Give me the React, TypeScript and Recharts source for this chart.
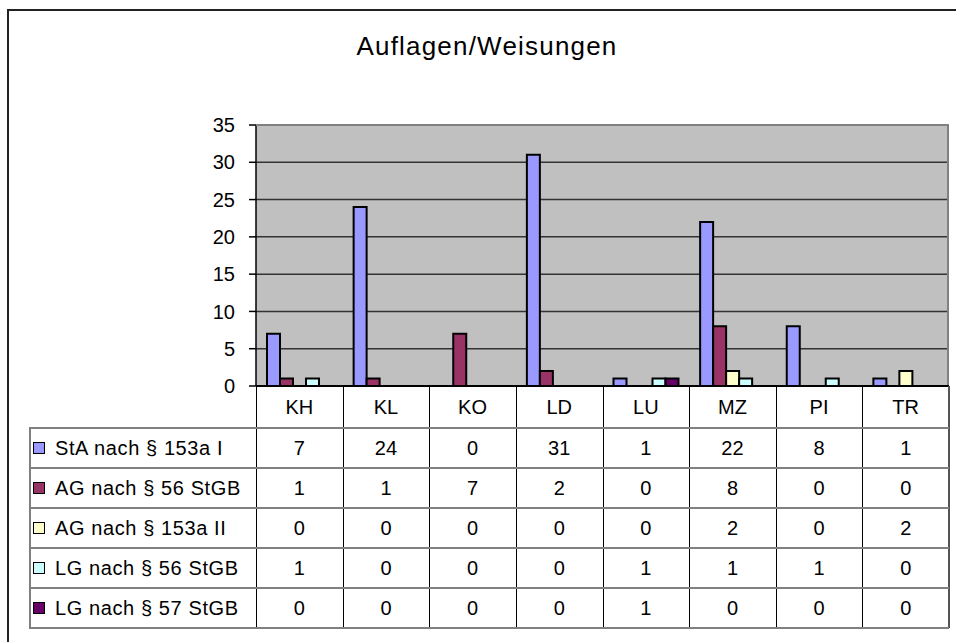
import React from 'react';
import { BarChart, Bar, XAxis, YAxis, CartesianGrid } from 'recharts';

const categories = ['KH', 'KL', 'KO', 'LD', 'LU', 'MZ', 'PI', 'TR'];

const staValues = [7, 24, 0, 31, 1, 22, 8, 1];
const ag56Values = [1, 1, 7, 2, 0, 8, 0, 0];
const ag153Values = [0, 0, 0, 0, 0, 2, 0, 2];
const lg56Values = [1, 0, 0, 0, 1, 1, 1, 0];
const lg57Values = [0, 0, 0, 0, 1, 0, 0, 0];

const seriesNames = [
  'StA nach § 153a I',
  'AG nach § 56 StGB',
  'AG nach § 153a II',
  'LG nach § 56 StGB',
  'LG nach § 57 StGB',
];
const seriesColors = ['#9999FF', '#993366', '#FFFFCC', '#CCFFFF', '#660066'];
const seriesValues = [staValues, ag56Values, ag153Values, lg56Values, lg57Values];

const yTicks = [0, 5, 10, 15, 20, 25, 30, 35];

// layout
const PLOT_LEFT = 256;
const PLOT_TOP = 125;
const PLOT_RIGHT = 949;
const PLOT_BOTTOM = 386;
const AXIS_W = 40;
const HEADER_BOTTOM = 428;
const ROW_H = 40;
const LABEL_LEFT = 29;
const FONT = '"Liberation Sans", Arial, sans-serif';

const colW = (PLOT_RIGHT - PLOT_LEFT) / categories.length;

const data = categories.map((cat, i) => {
  const row: Record<string, string | number> = { cat };
  seriesValues.forEach((vals, s) => {
    row['s' + s] = vals[i];
  });
  return row;
});

const abs = (style: React.CSSProperties): React.CSSProperties => ({ position: 'absolute', ...style });

export default function App() {
  const tableBottom = HEADER_BOTTOM + ROW_H * seriesNames.length;

  return (
    <div style={{ position: 'absolute', left: 0, top: 0, width: 956, height: 642, overflow: 'hidden', background: '#fff', fontFamily: FONT }}>
      {/* outer chart frame */}
      <div style={abs({ left: 7, top: 9, width: 1000, height: 700, borderLeft: '2px solid #222', borderTop: '2px solid #222' })} />

      <div style={abs({ left: 0, width: 974, top: 31, textAlign: 'center', fontSize: 26, letterSpacing: 1.2, color: '#000' })}>
        Auflagen/Weisungen
      </div>

      <BarChart
        width={956}
        height={PLOT_BOTTOM + 20}
        data={data}
        margin={{ top: PLOT_TOP, right: 956 - PLOT_RIGHT, bottom: 20, left: PLOT_LEFT - AXIS_W }}
        barCategoryGap={11}
        barGap={0}
        style={{ position: 'absolute', left: 0, top: 0 }}
      >
        <CartesianGrid vertical={false} stroke="#333" strokeWidth={1.5} fill="#C0C0C0" fillOpacity={1} />
        <XAxis dataKey="cat" hide />
        <YAxis
          width={AXIS_W}
          domain={[0, 35]}
          ticks={yTicks}
          interval={0}
          tickSize={7}
          tickMargin={14}
          axisLine={{ stroke: '#000', strokeWidth: 1.5 }}
          tickLine={{ stroke: '#000', strokeWidth: 1.5 }}
          tick={{ fill: '#000', fontSize: 20, fontFamily: FONT }}
        />
        {seriesNames.map((name, s) => (
          <Bar
            key={name}
            dataKey={'s' + s}
            name={name}
            fill={seriesColors[s]}
            stroke="#000"
            strokeWidth={2}
            isAnimationActive={false}
          />
        ))}
      </BarChart>

      {/* plot frame */}
      <div style={abs({ left: PLOT_LEFT, top: PLOT_TOP - 1, width: PLOT_RIGHT - PLOT_LEFT - 2, height: PLOT_BOTTOM - PLOT_TOP, borderTop: '2px solid #808080', borderRight: '2px solid #808080' })} />
      <div style={abs({ left: PLOT_LEFT, top: PLOT_BOTTOM - 1, width: PLOT_RIGHT - PLOT_LEFT, height: 2, background: '#000' })} />

      {/* data table */}
      {categories.map((cat, i) => (
        <div
          key={cat}
          style={abs({ left: PLOT_LEFT + i * colW, top: PLOT_BOTTOM, width: colW, height: HEADER_BOTTOM - PLOT_BOTTOM, lineHeight: `${HEADER_BOTTOM - PLOT_BOTTOM}px`, textAlign: 'center', fontSize: 20 })}
        >
          {cat}
        </div>
      ))}
      {categories.map((cat, i) => (
        <div key={'v' + cat} style={abs({ left: PLOT_LEFT + i * colW, top: PLOT_BOTTOM, width: 1, height: tableBottom - PLOT_BOTTOM, background: '#000' })} />
      ))}
      <div style={abs({ left: PLOT_RIGHT - 1, top: PLOT_BOTTOM, width: 2, height: tableBottom - PLOT_BOTTOM, background: '#555' })} />
      <div style={abs({ left: LABEL_LEFT, top: HEADER_BOTTOM, width: 2, height: tableBottom - HEADER_BOTTOM, background: '#808080' })} />
      {seriesNames.map((_, r) => (
        <div key={'h' + r} style={abs({ left: LABEL_LEFT, top: HEADER_BOTTOM + r * ROW_H - 1, width: PLOT_RIGHT - LABEL_LEFT, height: 2, background: '#808080' })} />
      ))}
      <div style={abs({ left: LABEL_LEFT, top: tableBottom - 1, width: PLOT_RIGHT - LABEL_LEFT, height: 2, background: '#808080' })} />

      {seriesNames.map((name, r) => (
        <React.Fragment key={name}>
          <div
            style={abs({
              left: 33,
              top: HEADER_BOTTOM + r * ROW_H + ROW_H / 2 - 6,
              width: 10,
              height: 10,
              background: seriesColors[r],
              border: '1.5px solid #000',
            })}
          />
          <div
            style={abs({ left: 55, top: HEADER_BOTTOM + r * ROW_H, height: ROW_H, lineHeight: `${ROW_H}px`, fontSize: 20, letterSpacing: 0.6, whiteSpace: 'nowrap' })}
          >
            {name}
          </div>
          {seriesValues[r].map((v, i) => (
            <div
              key={i}
              style={abs({ left: PLOT_LEFT + i * colW, top: HEADER_BOTTOM + r * ROW_H, width: colW, height: ROW_H, lineHeight: `${ROW_H}px`, textAlign: 'center', fontSize: 20 })}
            >
              {v}
            </div>
          ))}
        </React.Fragment>
      ))}
    </div>
  );
}
